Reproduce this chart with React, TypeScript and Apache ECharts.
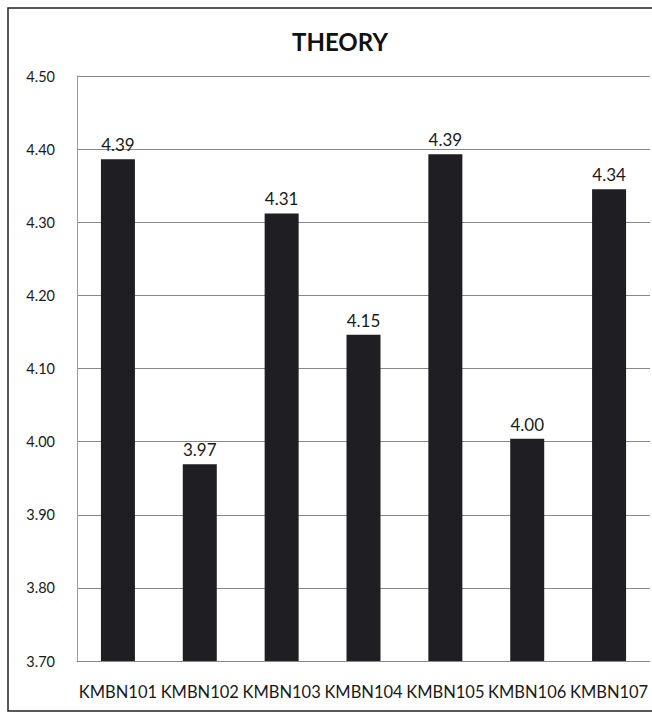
import React, { useEffect, useRef } from "react";
import * as echarts from "echarts";

const categories = ["KMBN101", "KMBN102", "KMBN103", "KMBN104", "KMBN105", "KMBN106", "KMBN107"];
const values = [4.386, 3.969, 4.312, 4.146, 4.393, 4.004, 4.345];
const yTicks = { min: 3.7, max: 4.5, interval: 0.1 };
const title = "THEORY";

export default function App() {
  const ref = useRef<HTMLDivElement>(null);
  useEffect(() => {
    if (!ref.current) return;
    const chart = echarts.init(ref.current, undefined, { renderer: "svg" });
    const font = "Lato";
    chart.setOption({
      animation: false,
      backgroundColor: "#ffffff",
      title: {
        text: title,
        left: 335,
        textAlign: "center",
        top: 24,
        textStyle: { fontFamily: font, fontWeight: "bold", fontSize: 24, color: "#111" },
      },
      graphic: [
        {
          type: "rect",
          shape: { x: 8, y: 8, width: 660, height: 703 },
          style: { fill: "none", stroke: "#222", lineWidth: 1.5 },
          silent: true,
        },
      ],
      grid: { left: 77, right: 2, top: 76, bottom: 55 },
      xAxis: {
        type: "category",
        data: categories,
        axisLine: { show: true, lineStyle: { color: "#888", width: 1 } },
        axisTick: { show: false },
        axisLabel: { fontFamily: font, fontSize: 16.5, color: "#1a1a1a", margin: 22, interval: 0 },
      },
      yAxis: {
        type: "value",
        min: yTicks.min,
        max: yTicks.max,
        interval: yTicks.interval,
        axisLine: { show: true, lineStyle: { color: "#999", width: 1 } },
        axisTick: { show: false },
        splitLine: { show: true, lineStyle: { color: "#888", width: 1 } },
        axisLabel: {
          fontFamily: font,
          fontSize: 14.5,
          color: "#1a1a1a",
          margin: 22,
          formatter: (v: number) => v.toFixed(2),
        },
      },
      series: [
        {
          type: "bar",
          data: values,
          barWidth: 34,
          itemStyle: { color: "#1f1f23" },
          label: {
            show: true,
            position: "top",
            distance: 6,
            fontFamily: font,
            fontSize: 17,
            color: "#1a1a1a",
            formatter: (p: any) => Number(p.value).toFixed(2),
          },
        },
      ],
    });
    return () => chart.dispose();
  }, []);
  return <div ref={ref} style={{ position: "fixed", left: 0, top: 0, width: 652, height: 716 }} />;
}
